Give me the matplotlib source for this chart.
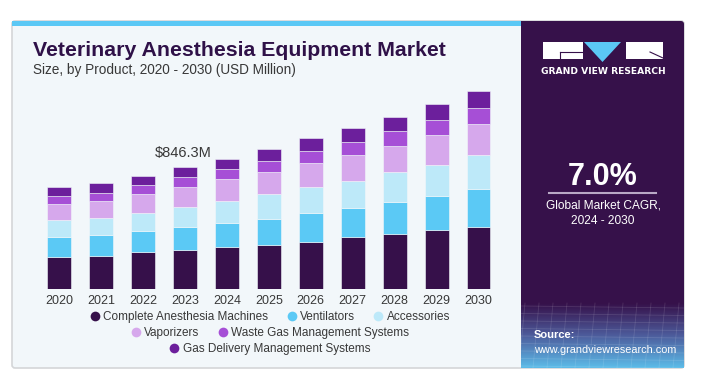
import numpy as np
import matplotlib

matplotlib.use("Agg")
import matplotlib.pyplot as plt
from matplotlib.patches import Rectangle, Polygon, FancyBboxPatch
from matplotlib.lines import Line2D
from matplotlib.colors import LinearSegmentedColormap

# ---- data (USD Million) ----------------------------------------------------
YEARS = ["2020", "2021", "2022", "2023", "2024", "2025",
         "2026", "2027", "2028", "2029", "2030"]
SEGMENTS = ["Complete Anesthesia Machines", "Ventilators", "Accessories",
            "Vaporizers", "Waste Gas Management Systems",
            "Gas Delivery Management Systems"]
complete_machines = [226.6, 233.5, 256.7, 272.8, 293.7, 309.8, 330.7, 360.7, 383.8, 411.6, 434.7]
ventilators = [134.1, 141.0, 148.0, 161.9, 168.8, 180.4, 201.2, 203.5, 219.7, 235.9, 259.0]
accessories = [117.9, 117.9, 127.2, 138.7, 148.0, 168.8, 180.4, 189.6, 208.1, 217.4, 238.2]
vaporizers = [111.0, 117.9, 131.8, 134.1, 152.6, 154.9, 161.9, 180.4, 185.0, 208.1, 215.0]
waste_gas = [60.1, 60.1, 60.1, 69.4, 69.4, 78.6, 85.6, 90.2, 101.7, 101.7, 108.7]
gas_delivery = [57.8, 64.7, 64.7, 69.4, 74.0, 83.2, 90.2, 97.1, 99.4, 111.0, 120.2]
SERIES = [complete_machines, ventilators, accessories, vaporizers, waste_gas, gas_delivery]
ANNOT_YEAR = 3
ANNOT_TEXT = "$846.3M"

# ---- colours ----------------------------------------------------------------
CARD = "#f2f7fa"
PANEL = "#36114a"
TITLE = "#2f1148"
TEXT = "#383838"
STRIPE = "#5bc8f5"
COLORS = ["#36104a", "#5bc9f5", "#bde9f9", "#d6a8ec", "#a64fd6", "#6c1f9c"]

W, H = 724, 375
plt.rcParams["font.family"] = ["Liberation Sans", "DejaVu Sans"]

fig = plt.figure(figsize=(W / 100, H / 100), dpi=100)
fig.patch.set_facecolor("white")

# background layer in pixel coordinates (y down)
bg = fig.add_axes([0, 0, 1, 1])
bg.set_xlim(0, W)
bg.set_ylim(H, 0)
bg.axis("off")

bg.add_patch(FancyBboxPatch((12, 21), 672, 347, boxstyle="round,pad=0,rounding_size=3",
                            facecolor=CARD, edgecolor="#d4d6d8", linewidth=1.2))
bg.add_patch(Rectangle((12, 21), 509, 5, facecolor=STRIPE, edgecolor="none"))
bg.add_patch(FancyBboxPatch((521, 21), 163, 347, boxstyle="round,pad=0,rounding_size=3",
                            facecolor=PANEL, edgecolor="none"))
bg.add_patch(Rectangle((521, 21), 5, 347, facecolor=PANEL, edgecolor="none"))

# bottom gradient in the side panel
grad = LinearSegmentedColormap.from_list("g", [PANEL, "#4d5c9c", "#5cbbe8"])
bg.imshow(np.linspace(0, 1, 64).reshape(-1, 1), cmap=grad, aspect="auto",
          extent=(521, 684, 368, 303), zorder=1, interpolation="bicubic")
for k in range(9):
    yy = 306 + k * 7.5
    bg.plot([521, 684], [yy, yy + 2], color="white", alpha=0.12, lw=0.6, zorder=2)
for k in range(12):
    xx = 525 + k * 14
    bg.plot([xx, xx - 6], [303, 368], color="white", alpha=0.12, lw=0.6, zorder=2)

# logo
bg.add_patch(Rectangle((543, 42), 40, 17, facecolor="white", edgecolor="none", zorder=3))
bg.plot([560, 583], [52, 52], color=PANEL, lw=0.8, zorder=4)
bg.plot([560, 560], [52, 59], color=PANEL, lw=0.8, zorder=4)
bg.add_patch(Polygon([(584, 42), (621, 42), (602.5, 62)], closed=True,
                     facecolor=STRIPE, edgecolor="none", zorder=3))
bg.add_patch(Rectangle((626, 42), 37, 17, facecolor="white", edgecolor="none", zorder=3))
bg.plot([650, 663], [52, 58], color=PANEL, lw=0.8, zorder=4)
bg.text(603, 72, "GRAND VIEW RESEARCH", color="white", fontsize=6.6,
        fontweight="bold", ha="center", va="center", family="DejaVu Sans")

# CAGR block
bg.text(603, 177, "7.0%", color="white", fontsize=22, fontweight="bold",
        ha="center", va="center")
bg.plot([549, 656], [193, 193], color="#b9a9c6", lw=1.5)
bg.text(603, 206, "Global Market CAGR,", color="white", fontsize=8.6,
        ha="center", va="center")
bg.text(603, 221, "2024 - 2030", color="white", fontsize=8.6,
        ha="center", va="center")
bg.text(534, 335, "Source:", color="white", fontsize=8, fontweight="bold",
        ha="left", va="center", zorder=5)
bg.text(534, 350, "www.grandviewresearch.com", color="white", fontsize=7.8,
        ha="left", va="center", zorder=5)

# titles
bg.text(33, 51, "Veterinary Anesthesia Equipment Market", color=TITLE,
        fontsize=15.3, fontweight="bold", ha="left", va="center")
bg.text(33, 70, "Size, by Product, 2020 - 2030 (USD Million)", color=TEXT,
        fontsize=9.8, ha="left", va="center")

# ---- chart ------------------------------------------------------------------
ax = fig.add_axes([38.2 / W, (H - 289.3) / H, 461.3 / W, 204.3 / H])
ax.set_facecolor("none")
x = np.arange(len(YEARS))
bottom = np.zeros(len(YEARS))
for vals, col, name in zip(SERIES, COLORS, SEGMENTS):
    ax.bar(x, vals, bottom=bottom, width=0.57, color=col, edgecolor=CARD,
           linewidth=0.4, label=name)
    bottom += np.array(vals)

ax.set_xlim(-0.5, len(YEARS) - 0.5)
ax.set_ylim(0, 1417)
ax.set_xticks(x)
ax.set_xticklabels(YEARS, fontsize=9, color=TEXT)
ax.tick_params(axis="x", length=0, pad=4)
ax.set_yticks([])
for s in ax.spines.values():
    s.set_visible(False)

ax.annotate(ANNOT_TEXT, (x[ANNOT_YEAR], bottom[ANNOT_YEAR]),
            xytext=(-1.5, 5.5), textcoords="offset points", ha="center",
            va="bottom", fontsize=10.5, color=TEXT)

# ---- legend: three centred rows ---------------------------------------------
handles = [Line2D([], [], marker="o", linestyle="none", markersize=7,
                  markerfacecolor=c, markeredgecolor="none") for c in COLORS]
rows = [(0, 3, 317), (3, 5, 333), (5, 6, 349)]
for a, b, yy in rows:
    fig.legend(handles[a:b], SEGMENTS[a:b], loc="center",
               bbox_to_anchor=(270 / W, 1 - yy / H), ncol=b - a, frameon=False,
               fontsize=8.5, handletextpad=0.3, columnspacing=1.6,
               handlelength=0.8, borderpad=0, labelcolor=TEXT)

fig.savefig("out.png", dpi=100, facecolor="white")
